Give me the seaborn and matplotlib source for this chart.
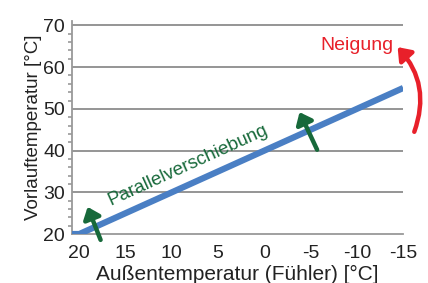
import numpy as np
import pandas as pd
import matplotlib
matplotlib.use("Agg")
import matplotlib.pyplot as plt
import seaborn as sns
from matplotlib.ticker import MultipleLocator

# ── Data ──────────────────────────────────────────────────────────────────
aussen = [20.8, 20.0, 0.0, -15.0]
vorlauf = [20.0, 20.0, 40.0, 55.0]
x_ticks = [20, 15, 10, 5, 0, -5, -10, -15]
y_ticks = [20, 30, 40, 50, 60, 70]

df = pd.DataFrame({"aussen": aussen, "vorlauf": vorlauf})

sns.set_theme(style="white")
plt.rcParams['font.family'] = ['Liberation Sans', 'DejaVu Sans']
plt.rcParams['axes.unicode_minus'] = False

fig, ax = plt.subplots(figsize=(4.28, 2.83), dpi=100)
fig.subplots_adjust(left=0.168, right=0.942, top=0.925, bottom=0.173)

for yv in y_ticks[1:]:
    ax.axhline(yv, color='#8c8c8c', lw=1.3, zorder=1)

sns.lineplot(data=df, x="aussen", y="vorlauf", ax=ax, color='#4a7fc4',
             lw=4.5, zorder=3, solid_capstyle='butt')

ax.set_xlim(20.8, -15)
ax.set_ylim(20, 71)
ax.set_xticks(x_ticks)
ax.set_yticks(y_ticks)
ax.yaxis.set_minor_locator(MultipleLocator(2))
ax.tick_params(axis='both', labelsize=14, colors='#222222', pad=1)
ax.tick_params(axis='x', which='major', direction='in', length=4,
               color='#999999', width=1.2, pad=8)
ax.tick_params(axis='y', which='major', direction='out', length=4,
               color='#999999', width=1.2)
ax.tick_params(axis='y', which='minor', left=True, direction='out',
               length=3, color='#999999', width=1.2)
for s in ['top', 'right']:
    ax.spines[s].set_visible(False)
for s in ['left', 'bottom']:
    ax.spines[s].set_color('#999999')
    ax.spines[s].set_linewidth(1.3)

ax.set_xlabel("Außentemperatur (Fühler) [°C]", fontsize=15, labelpad=2,
              color='#222222')
ax.set_ylabel("Vorlauftemperatur [°C]", fontsize=13.5, labelpad=1,
              color='#222222')

green = '#17693a'
arrow_kw = dict(arrowstyle='-|>,head_length=0.55,head_width=0.45',
                color=green, lw=3.2, shrinkA=0, shrinkB=0)
ax.annotate("", xy=(19.1, 26.5), xytext=(17.7, 18.6), arrowprops=arrow_kw,
            annotation_clip=False, zorder=5)
ax.annotate("", xy=(-3.8, 49.2), xytext=(-5.7, 40.2), arrowprops=arrow_kw,
            zorder=5)

ax.text(8.3, 36.4, "Parallelverschiebung", color=green, fontsize=13.5,
        rotation=24.5, ha='center', va='center', zorder=6)

red = '#e8202a'
ax.annotate("", xy=(-14.4, 64.8), xytext=(-16.2, 44.5),
            arrowprops=dict(arrowstyle='-|>,head_length=0.6,head_width=0.45',
                            color=red, lw=3.2, shrinkA=0, shrinkB=0,
                            connectionstyle='arc3,rad=0.3'),
            annotation_clip=False, zorder=5)
ax.text(-10.0, 65.3, "Neigung", color=red, fontsize=14, ha='center',
        va='center')

fig.savefig("out.png", dpi=100)
